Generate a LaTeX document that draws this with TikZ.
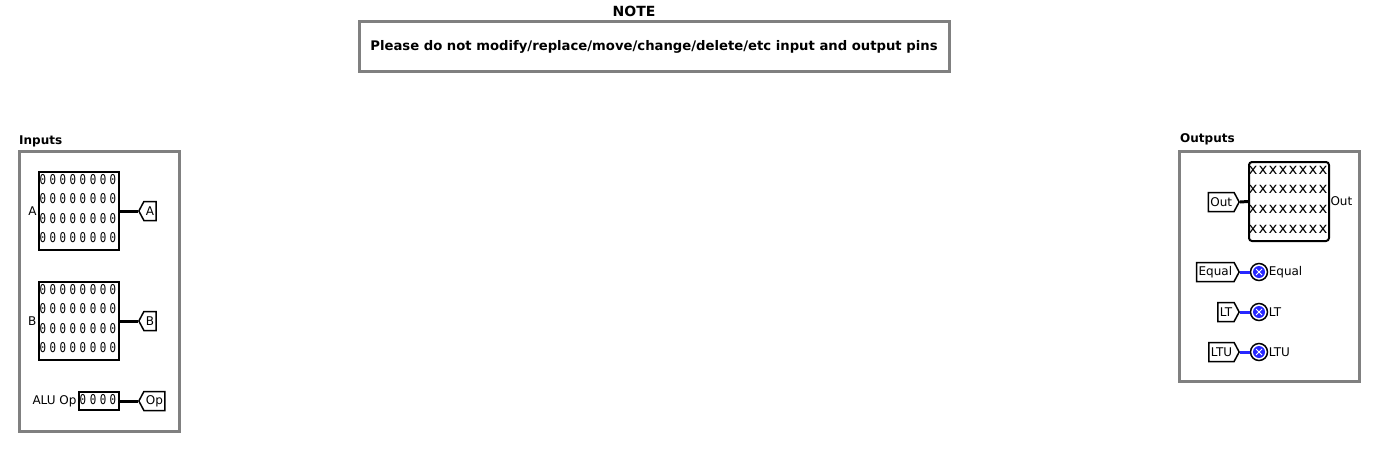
\documentclass[tikz,border=0pt]{standalone}
\usepackage{fontspec}
\setmainfont{DejaVu Sans}
\newfontfamily\regfont[FakeStretch=0.8]{DejaVu Sans Mono}
\usetikzlibrary{shapes.symbols,positioning}
\definecolor{framegray}{RGB}{128,128,128}
\definecolor{ledblue}{RGB}{40,40,255}

\begin{document}
\begin{tikzpicture}[x=1pt,y=-1pt,
  every node/.style={font=\fontsize{12}{14}\selectfont},
  frame/.style={draw=framegray,line width=3pt,inner sep=0pt},
  title/.style={font=\fontsize{12}{14}\selectfont\bfseries,inner sep=0pt},
  reg/.style={draw,line width=2pt,inner sep=0pt,minimum width=80pt,minimum height=78pt},
  digit/.style={font=\regfont\fontsize{13.5}{14}\selectfont,inner sep=0pt},
  tunnel/.style={signal,draw,line width=1.5pt,inner xsep=2pt,inner ysep=0pt,
    minimum height=19pt,signal pointer angle=124},
  wire/.style={line width=3pt},
  bluewire/.style={line width=3pt,ledblue},
  led/.style={circle,draw,line width=1.5pt,minimum size=17pt,inner sep=0pt}
]
\useasboundingbox (0,0) rectangle (1379,451);

% note
\node[title,font=\fontsize{14}{16}\selectfont\bfseries] (noteTitle) at (634,11) {NOTE};
\node[frame,minimum width=590pt,minimum height=50pt,font=\fontsize{13.2}{16}\selectfont\bfseries]
  (note) at (654,46.5) {Please do not modify/replace/move/change/delete/etc input and output pins};

% inputs
\node[title,anchor=west] (inTitle) at (19,141) {Inputs};
\node[frame,minimum width=160pt,minimum height=280pt] (inBox) at (99,291) {};

\node[reg,label={[label distance=-2pt]left:A}] (regA) at (79,211) {};
\node[reg,label={[label distance=-2pt]left:B}] (regB) at (79,321) {};
\node[reg,minimum width=40pt,minimum height=18pt,label={[label distance=-2pt]left:ALU Op}] (regOp) at (99,401) {};
\foreach \r in {regA,regB}
  \foreach \j in {0,...,3}
    \foreach \i in {0,...,7}
      \node[digit] at ([shift={(5+10*\i,8.5+19.5*\j)}]\r.north west) {0};
\foreach \i in {0,...,3}
  \node[digit] at ([shift={(5+10*\i,9)}]regOp.north west) {0};

\node[tunnel,signal to=west,anchor=west] (tunA) at (138,211) {A};
\node[tunnel,signal to=west,anchor=west] (tunB) at (138,321) {B};
\node[tunnel,signal to=west,anchor=west] (tunOp) at (138,401) {Op};
\draw[wire] (regA.east) -- (tunA.west);
\draw[wire] (regB.east) -- (tunB.west);
\draw[wire] (regOp.east) -- (tunOp.west);

% outputs
\node[title,anchor=west] (outTitle) at (1180,139) {Outputs};
\node[frame,minimum width=180pt,minimum height=230pt] (outBox) at (1269,266) {};

\node[reg,rounded corners=3pt,minimum height=79pt,label={[label distance=-3pt]right:Out}] (probeOut) at (1289,201.5) {};
\foreach \j in {0,...,3}
  \foreach \i in {0,...,7}
    \node[digit,font=\fontsize{15}{16}\selectfont] at ([shift={(5+10*\i,9+19.7*\j)}]probeOut.north west) {x};
\node[tunnel,anchor=east] (tunOut) at (1240,202) {Out};
\draw[wire] (tunOut.east) -- (probeOut.west);

\foreach \nm/\yy in {Equal/272,LT/312,LTU/352} {
  \node[led,label={[label distance=-3pt]right:\nm}] (led\nm) at (1259,\yy) {};
  \fill[ledblue] (led\nm.center) circle (6);
  \draw[white,line width=1pt] ([shift={(-3,-3)}]led\nm.center) -- ([shift={(3,3)}]led\nm.center)
    ([shift={(-3,3)}]led\nm.center) -- ([shift={(3,-3)}]led\nm.center);
  \node[tunnel,anchor=east] (tun\nm) at (1240,\yy) {\nm};
  \draw[bluewire] (tun\nm.east) -- (led\nm.west);
}
\end{tikzpicture}
\end{document}
